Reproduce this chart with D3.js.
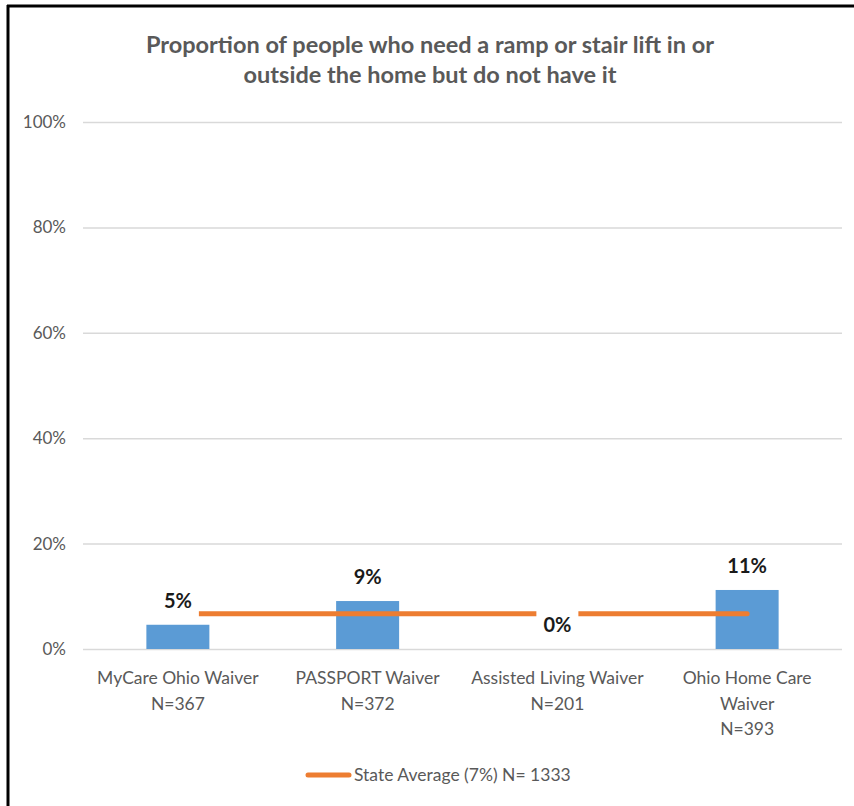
<!DOCTYPE html>
<html>
<head>
<meta charset="utf-8">
<script src="https://cdn.jsdelivr.net/npm/d3@7"></script>
<style>
  html, body { margin: 0; padding: 0; background: #fff; }
  svg { display: block; }
  text { font-family: Lato, "Open Sans", sans-serif; }
</style>
</head>
<body>
<svg id="chart" width="854" height="806"></svg>
<script>
// ---- data ----
const titleLines = ["Proportion of people who need a ramp or stair lift in or", "outside the home but do not have it"];
const categories = ["MyCare Ohio Waiver", "PASSPORT Waiver", "Assisted Living Waiver", "Ohio Home Care\nWaiver"];
const sampleSizes = [367, 372, 201, 393];
const values = [0.046, 0.091, 0.0, 0.112];
const valueLabels = ["5%", "9%", "0%", "11%"];
const stateAverage = 0.067;
const legendLabel = "State Average (7%) N= 1333";
const yTicks = [0, 0.2, 0.4, 0.6, 0.8, 1.0];

// ---- layout ----
const svg = d3.select("#chart");
const plot = { left: 83, right: 842, top: 122, bottom: 649 };
const barColor = "#5B9BD5";
const lineColor = "#ED7D31";
const textGray = "#595959";

svg.append("rect").attr("width", 854).attr("height", 806).attr("fill", "#fff");

// frame (top and left edges visible)
svg.append("line").attr("x1", 7).attr("x2", 854).attr("y1", 6).attr("y2", 6)
  .attr("stroke", "#000").attr("stroke-width", 3);
svg.append("line").attr("x1", 8).attr("x2", 8).attr("y1", 5).attr("y2", 806)
  .attr("stroke", "#000").attr("stroke-width", 3);

// title
svg.append("text")
  .attr("x", 430).attr("y", 53)
  .attr("text-anchor", "middle")
  .attr("fill", textGray)
  .attr("font-weight", "bold")
  .attr("font-size", 23.5)
  .selectAll("tspan").data(titleLines).join("tspan")
  .attr("x", 430).attr("dy", (d, i) => i === 0 ? 0 : 30)
  .text(d => d);

// scales
const x = d3.scaleBand().domain(categories)
  .range([plot.left, plot.right])
  .paddingInner(0.668).paddingOuter(0.334);
const y = d3.scaleLinear().domain([0, 1]).range([plot.bottom, plot.top]);

// gridlines + y axis
const yAxis = d3.axisLeft(y).tickValues(yTicks)
  .tickFormat(d3.format(".0%"))
  .tickSize(-(plot.right - plot.left)).tickPadding(17);
const gy = svg.append("g").attr("transform", `translate(${plot.left},0)`).call(yAxis);
gy.select(".domain").remove();
gy.selectAll(".tick line").attr("stroke", "#d9d9d9").attr("stroke-width", 1.5);
gy.selectAll(".tick text").attr("fill", textGray).attr("font-size", 17)
  .attr("font-family", "Lato, 'Open Sans', sans-serif");

// bars
svg.append("g").selectAll("rect").data(categories).join("rect")
  .attr("x", d => x(d))
  .attr("width", x.bandwidth())
  .attr("y", (d, i) => y(values[i]))
  .attr("height", (d, i) => y(0) - y(values[i]))
  .attr("fill", barColor);

// state average line (from first to last category centre)
const cx = d => x(d) + x.bandwidth() / 2;
svg.append("line")
  .attr("x1", cx(categories[0])).attr("x2", cx(categories[categories.length - 1]))
  .attr("y1", y(stateAverage)).attr("y2", y(stateAverage))
  .attr("stroke", lineColor).attr("stroke-width", 5).attr("stroke-linecap", "round");

// data labels with white background
const lab = svg.append("g").selectAll("g").data(categories).join("g");
lab.each(function (d, i) {
  const g = d3.select(this);
  const bx = cx(d), by = y(values[i]) - 17;
  const bg = g.append("rect").attr("fill", "#fff");
  const t = g.append("text")
    .attr("x", bx).attr("y", by)
    .attr("text-anchor", "middle")
    .attr("font-weight", "bold").attr("font-size", 20)
    .attr("fill", "#1a1a1a")
    .text(valueLabels[i]);
  const w = t.node().getComputedTextLength();
  bg.attr("x", bx - w / 2 - 7).attr("width", w + 14)
    .attr("y", by - 23).attr("height", 33);
});

// category labels
svg.append("g").selectAll("text").data(categories).join("text")
  .attr("text-anchor", "middle")
  .attr("fill", textGray)
  .attr("font-size", 17.5)
  .attr("y", 684)
  .each(function (d, i) {
    const lines = d.split("\n").concat(["N=" + sampleSizes[i]]);
    d3.select(this).selectAll("tspan").data(lines).join("tspan")
      .attr("x", cx(d)).attr("dy", (l, j) => j === 0 ? 0 : 25.5)
      .text(l => l);
  });

// legend
svg.append("line").attr("x1", 308).attr("x2", 349).attr("y1", 775).attr("y2", 775)
  .attr("stroke", lineColor).attr("stroke-width", 5).attr("stroke-linecap", "round");
svg.append("text").attr("x", 354).attr("y", 781)
  .attr("fill", textGray).attr("font-size", 17.5)
  .text(legendLabel);
</script>
</body>
</html>
